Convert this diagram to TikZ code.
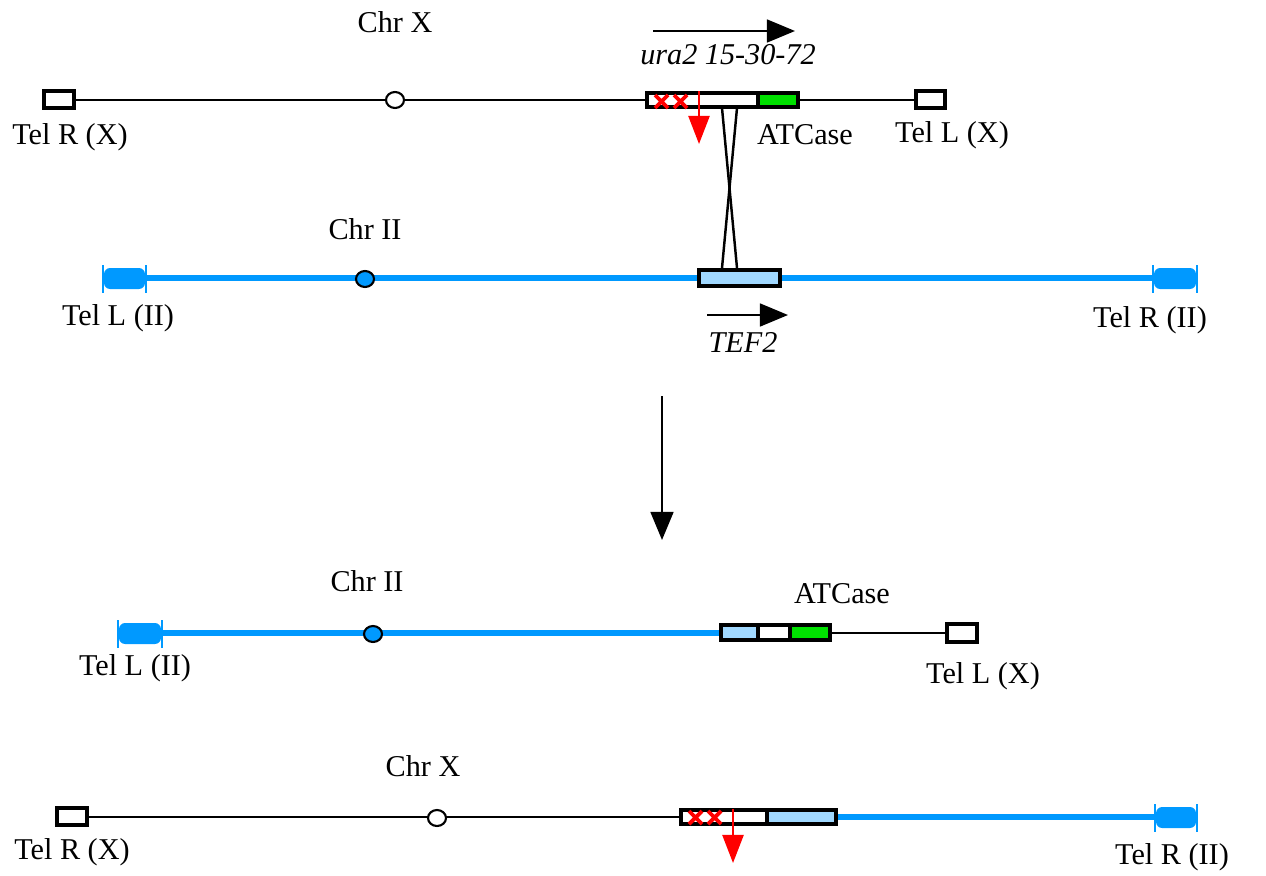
\documentclass[tikz,border=0pt]{standalone}
\usepackage{fontspec}
\setmainfont{Liberation Serif}
\usetikzlibrary{arrows.meta}
\definecolor{chrblue}{RGB}{0,153,255}
\definecolor{genblue}{RGB}{160,216,255}
\definecolor{atgreen}{RGB}{0,225,0}

\begin{document}
\begin{tikzpicture}[x=0.02cm,y=-0.02cm,
  lbl/.style={font=\fontsize{17.2}{20}\selectfont,inner sep=0pt},
  xline/.style={line width=1.3pt},
  iiline/.style={line width=3pt,color=chrblue},
  gbox/.style={draw,line width=1.8pt},
  cen/.style={draw,line width=1.2pt},
  mut/.style={red,line width=2.2pt},
  tick/.style={chrblue,line width=1.3pt},
  blob/.style={fill=chrblue,rounded corners=3.5pt},
  dirarrow/.style={line width=1.3pt,-{Triangle[length=16pt,width=13pt]}},
  redarrow/.style={red,line width=1.3pt,-{Triangle[length=16pt,width=12pt]}}]
\useasboundingbox (0,0) rectangle (1266,875);

% chromosome X
\draw[xline] (74,100) -- (916,100);
\draw[gbox,fill=white] (44,91) rectangle (74,108);
\draw[gbox,fill=white] (916,91) rectangle (945,108);
\draw[cen,fill=white] (395,100) ellipse (9 and 8);
\draw[gbox,fill=white] (647,93) rectangle (758,107);
\draw[gbox,fill=atgreen] (758,93) rectangle (798,107);
\draw[mut] (655,95) -- (668,108) (655,108) -- (668,95);
\draw[mut] (674,95) -- (687,108) (674,108) -- (687,95);
\draw[redarrow] (699,91) -- (699,144);
\draw[dirarrow] (653,31) -- (795,31);
\node[lbl] (chrx) at (395,22) {Chr X};
\node[lbl] (ura) at (728,55) {\itshape ura2 15-30-72};
\node[lbl] (atc) at (805,135) {ATCase};
\node[lbl] (telrx) at (70,137) {Tel R (X)};
\node[lbl] (tellx) at (952,135) {Tel L (X)};

% crossover
\draw[line width=1.4pt] (722,108) -- (737,268);
\draw[line width=1.4pt] (737,108) -- (722,268);

% chromosome II
\draw[iiline] (146,278) -- (1152,278);
\draw[tick] (103,265) -- (103,293);
\draw[tick] (146,265) -- (146,293);
\fill[blob] (104,268) rectangle (145,289);
\draw[tick] (1153,265) -- (1153,293);
\draw[tick] (1197,265) -- (1197,293);
\fill[blob] (1154,268) rectangle (1196,289);
\draw[cen,fill=chrblue] (365,279) ellipse (9 and 8);
\draw[gbox,fill=genblue] (699,270) rectangle (780,286);
\draw[dirarrow] (707,315) -- (788,315);
\node[lbl] (chrii) at (365,229) {Chr II};
\node[lbl] (tef) at (743,342) {\itshape TEF2};
\node[lbl] (tellii) at (118,318) {Tel L (II)};
\node[lbl] (telrii) at (1150,320) {Tel R (II)};

\draw[line width=1.3pt,-{Triangle[length=16pt,width=13pt]}] (662,396) -- (662,540);

% recombinant II/X
\draw[iiline] (162,633) -- (721,633);
\draw[xline] (830,633) -- (947,633);
\draw[tick] (118,620) -- (118,648);
\draw[tick] (162,620) -- (162,648);
\fill[blob] (119,623) rectangle (161,644);
\draw[cen,fill=chrblue] (373,634) ellipse (9 and 8);
\draw[gbox,fill=genblue] (721,625) rectangle (758,640);
\draw[gbox,fill=white] (758,625) rectangle (790,640);
\draw[gbox,fill=atgreen] (790,625) rectangle (830,640);
\draw[gbox,fill=white] (947,624) rectangle (977,642);
\node[lbl] (chrii2) at (367,581) {Chr II};
\node[lbl] (atc2) at (842,594) {ATCase};
\node[lbl] (tellii2) at (135,668) {Tel L (II)};
\node[lbl] (tellx2) at (983,676) {Tel L (X)};

% recombinant X/II
\draw[xline] (87,817) -- (681,817);
\draw[iiline] (836,817) -- (1155,817);
\draw[gbox,fill=white] (57,808) rectangle (87,825);
\draw[cen,fill=white] (437,818) ellipse (9 and 8);
\draw[gbox,fill=white] (681,810) rectangle (767,824);
\draw[gbox,fill=genblue] (767,810) rectangle (836,824);
\draw[mut] (689,811) -- (702,824) (689,824) -- (702,811);
\draw[mut] (708,811) -- (721,824) (708,824) -- (721,811);
\draw[redarrow] (733,809) -- (733,863);
\draw[tick] (1155,804) -- (1155,832);
\draw[tick] (1197,804) -- (1197,832);
\fill[blob] (1156,807) rectangle (1196,828);
\node[lbl] (chrx2) at (423,766) {Chr X};
\node[lbl] (telrx2) at (72,852) {Tel R (X)};
\node[lbl] (telrii2) at (1172,857) {Tel R (II)};
\end{tikzpicture}
\end{document}
